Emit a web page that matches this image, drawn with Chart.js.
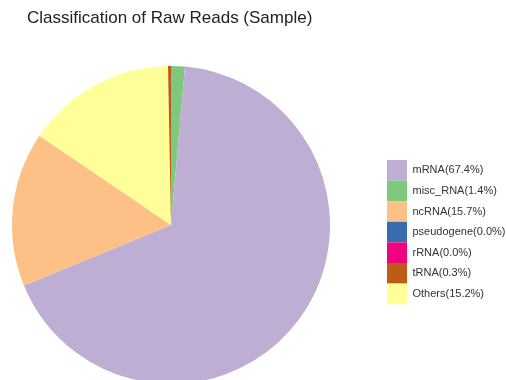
<!DOCTYPE html>
<html>
<head>
<meta charset="utf-8">
<script src="https://cdn.jsdelivr.net/npm/chart.js@4"></script>
<style>
  html, body { margin: 0; padding: 0; background: #fff; overflow: hidden; }
  #wrap { position: relative; width: 506px; height: 380px; overflow: hidden; }
  /* canvas starts left of the page edge so the pie sits left of centre */
  #c { position: absolute; left: -45px; top: 0; }
  #title {
    position: absolute; left: 27px; top: 9px;
    font: 17px/17px "Liberation Sans", Arial, sans-serif;
    color: #222; white-space: nowrap;
  }
</style>
</head>
<body>
<div id="wrap">
  <canvas id="c" width="551" height="380"></canvas>
  <div id="title">Classification of Raw Reads (Sample)</div>
</div>
<script>
// Read classes, in legend order
const categories = ['mRNA', 'misc_RNA', 'ncRNA', 'pseudogene', 'rRNA', 'tRNA', 'Others'];
const percents   = [67.4, 1.4, 15.7, 0.0, 0.0, 0.3, 15.2];
const colors     = ['#BEAED4', '#7FC97F', '#FDC086', '#386CB0', '#F0027F', '#BF5B17', '#FFFF99'];
// Slices run clockwise from 12 o'clock in this order (indices into the arrays above)
const sliceOrder = [1, 0, 2, 3, 4, 6, 5];

const legendText = categories.map((c, i) => c + '(' + percents[i].toFixed(1) + '%)');

new Chart(document.getElementById('c'), {
  type: 'pie',
  data: {
    labels: sliceOrder.map(i => legendText[i]),
    datasets: [{
      data: sliceOrder.map(i => percents[i]),
      backgroundColor: sliceOrder.map(i => colors[i]),
      borderWidth: 0,
      radius: 159,
      clip: false
    }]
  },
  options: {
    responsive: false,
    animation: false,
    devicePixelRatio: 1,
    rotation: 0,
    layout: { padding: { left: 0, right: 0, top: 70, bottom: 0 } },
    plugins: {
      tooltip: { enabled: false },
      title: { display: false },
      legend: {
        position: 'right',
        align: 'center',
        maxWidth: 119,
        // empty heading, only nudges the key block down a little
        title: { display: true, text: ' ', font: { size: 10, lineHeight: 1.2 }, padding: { top: 1.1, bottom: 1.1 } },
        labels: {
          boxWidth: 20,
          boxHeight: 20.6,
          padding: 0,
          color: '#333',
          font: { family: '"Liberation Sans", Arial, sans-serif', size: 11 },
          sort: (a, b) => sliceOrder[a.index] - sliceOrder[b.index]
        }
      }
    }
  }
});
</script>
</body>
</html>
